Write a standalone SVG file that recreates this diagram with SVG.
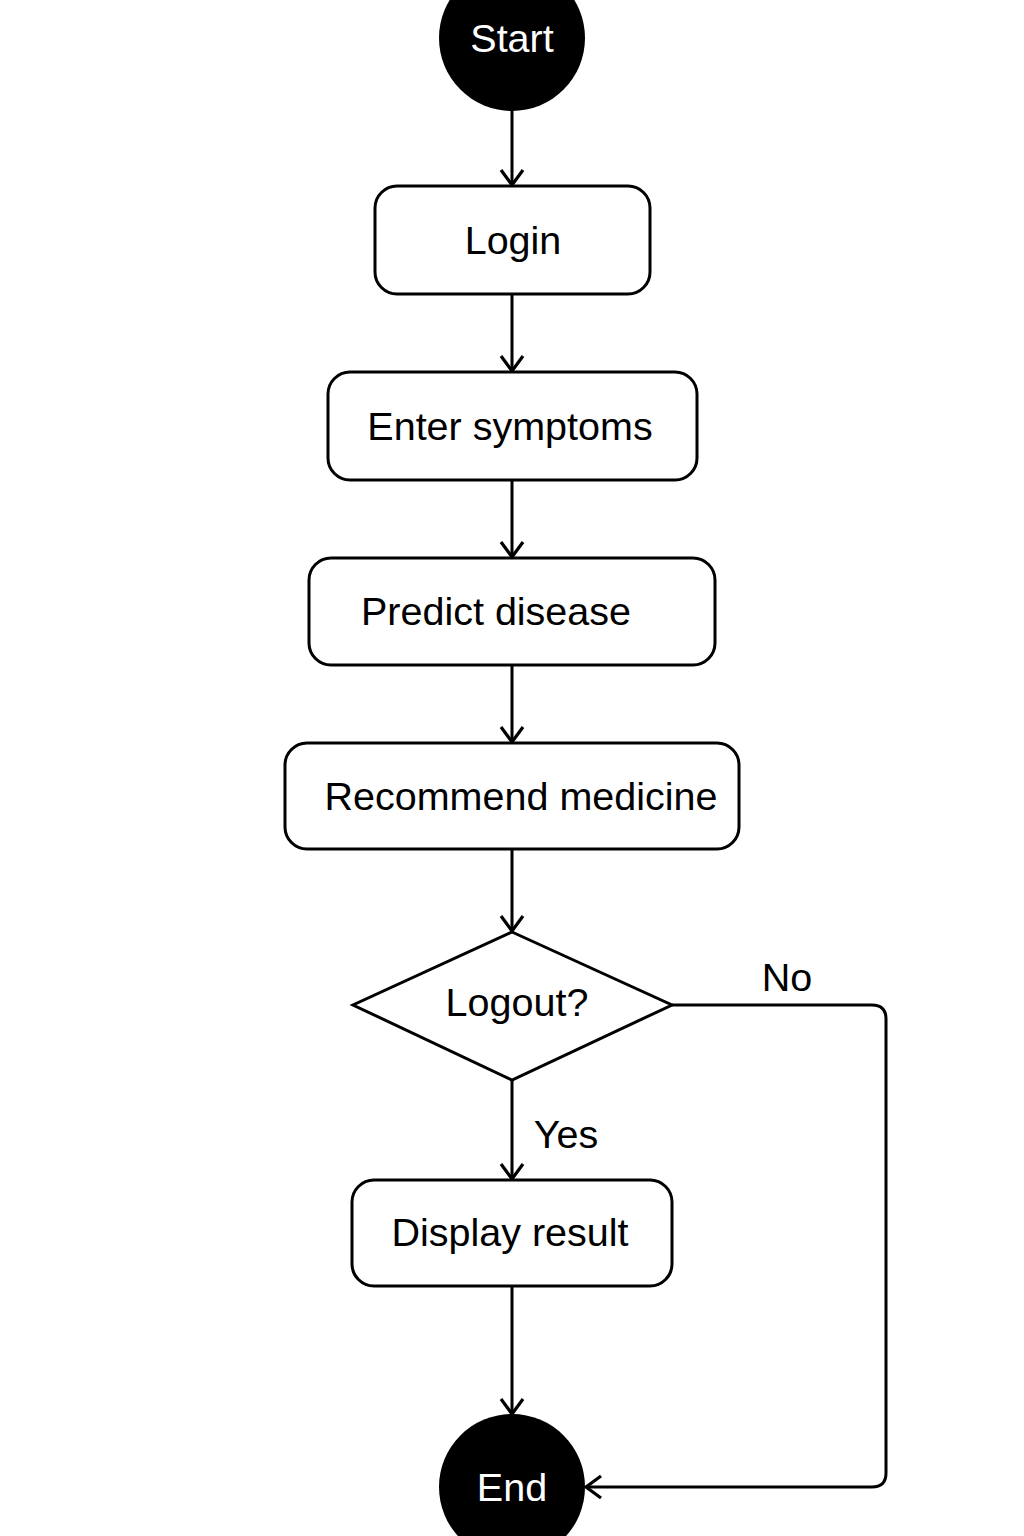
<svg xmlns="http://www.w3.org/2000/svg" width="1024" height="1536" viewBox="0 0 1024 1536">
<style>
.box{fill:#fff;stroke:#000;stroke-width:3}
.term{fill:#000}
.t{font-family:"Liberation Sans",Arial,sans-serif;font-size:39.5px;fill:#000;text-anchor:middle}
.w{fill:#fff}
.c{fill:none;stroke:#000;stroke-width:3}
</style>
<defs>
<marker id="ah" viewBox="0 0 20 26" refX="17" refY="13" markerWidth="20" markerHeight="26" markerUnits="userSpaceOnUse" orient="auto">
<path d="M2,2 L17,13 L2,24" fill="none" stroke="#000" stroke-width="3.2"/>
</marker>
</defs>
<rect width="1024" height="1536" fill="#fff"/>
<g id="connectors">
<path class="c" d="M512,111 V185" marker-end="url(#ah)"/>
<path class="c" d="M512,294 V371" marker-end="url(#ah)"/>
<path class="c" d="M512,480 V557" marker-end="url(#ah)"/>
<path class="c" d="M512,665 V742" marker-end="url(#ah)"/>
<path class="c" d="M512,849 V931" marker-end="url(#ah)"/>
<path class="c" d="M512,1080 V1179" marker-end="url(#ah)"/>
<path class="c" d="M512,1286 V1414" marker-end="url(#ah)"/>
<path class="c" d="M672,1005 H872 Q886,1005 886,1019 V1473 Q886,1487 872,1487 H586" marker-end="url(#ah)"/>
<text class="t" x="787" y="991">No</text>
<text class="t" x="566" y="1148">Yes</text>
</g>
<g id="start">
<circle class="term" cx="512" cy="38" r="73"/>
<text class="t w" x="512" y="52">Start</text>
</g>
<g id="login">
<rect class="box" x="375" y="186" width="275" height="108" rx="22"/>
<text class="t" x="513" y="254">Login</text>
</g>
<g id="enter-symptoms">
<rect class="box" x="328" y="372" width="369" height="108" rx="22"/>
<text class="t" x="510" y="440">Enter symptoms</text>
</g>
<g id="predict-disease">
<rect class="box" x="309" y="558" width="406" height="107" rx="22"/>
<text class="t" x="496" y="625">Predict disease</text>
</g>
<g id="recommend-medicine">
<rect class="box" x="285" y="743" width="454" height="106" rx="22"/>
<text class="t" x="521" y="810">Recommend medicine</text>
</g>
<g id="logout">
<polygon class="box" points="512,932 672,1005 512,1080 353,1005"/>
<text class="t" x="517" y="1016">Logout?</text>
</g>
<g id="display-result">
<rect class="box" x="352" y="1180" width="320" height="106" rx="22"/>
<text class="t" x="510" y="1246">Display result</text>
</g>
<g id="end">
<circle class="term" cx="512" cy="1487" r="73"/>
<text class="t w" x="512" y="1501">End</text>
</g>
</svg>
